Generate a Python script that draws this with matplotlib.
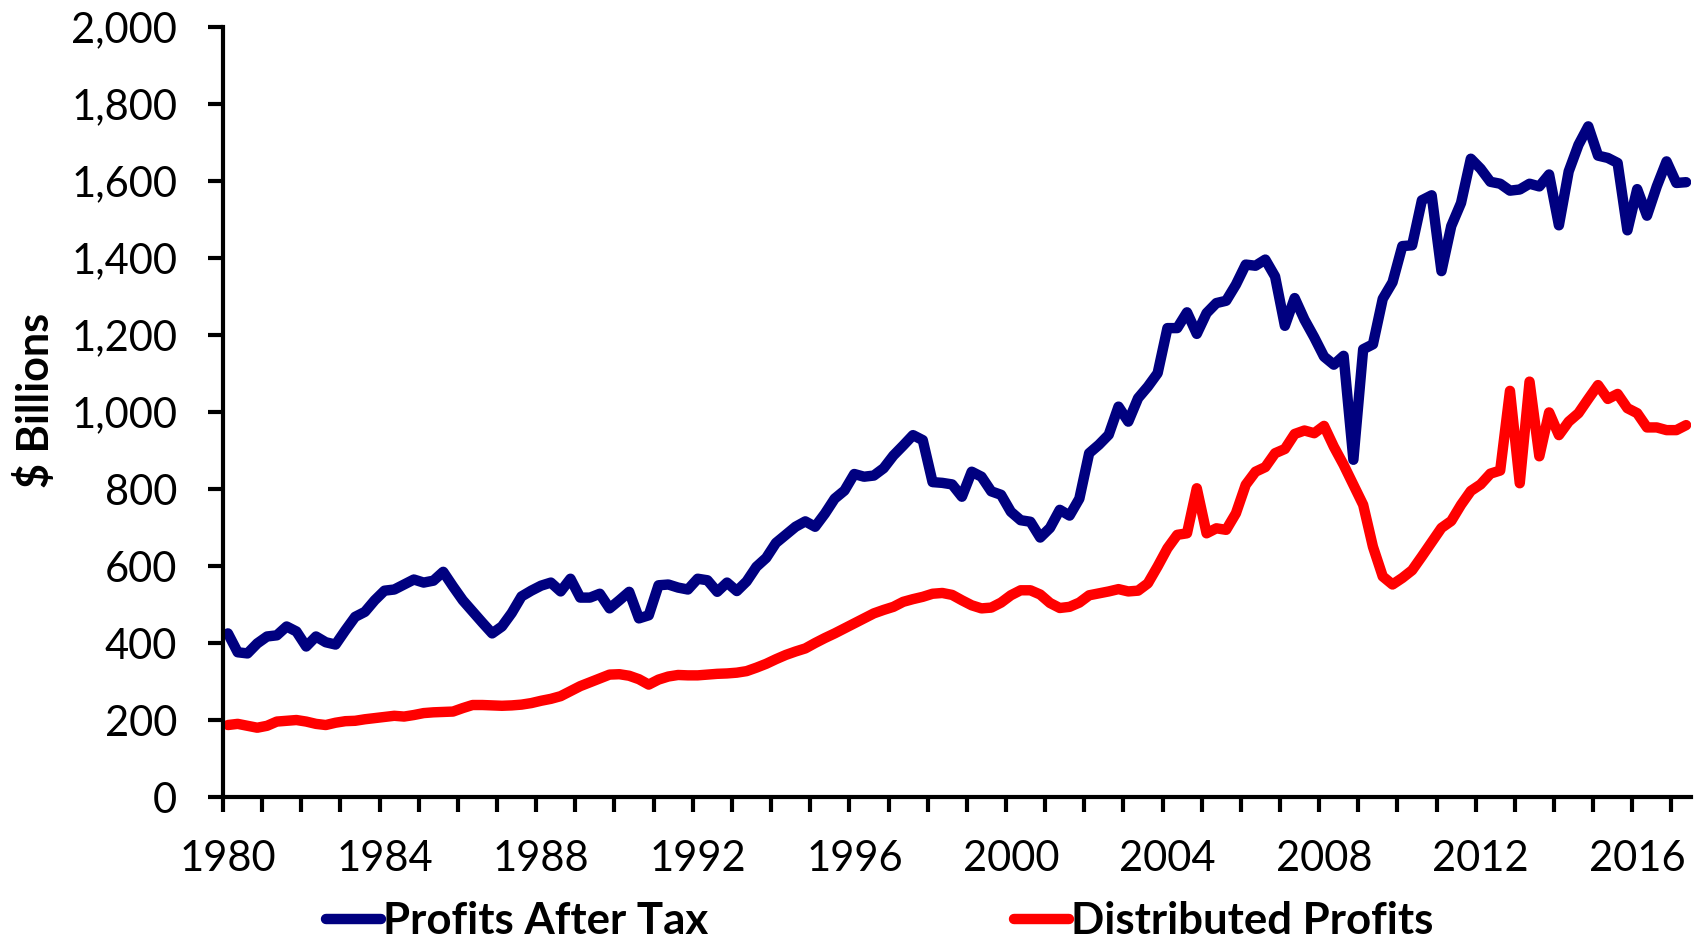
import numpy as np
import pandas as pd
import matplotlib
matplotlib.use('Agg')
import matplotlib.pyplot as plt
import matplotlib.transforms as mtransforms
from matplotlib.ticker import FuncFormatter, MultipleLocator

# quarterly data, 1980Q1 - 2017Q2, $ billions
profits_after_tax = [
    425, 376, 373, 399, 417, 420, 443, 430, 391, 417, 402, 396,
    433, 468, 481, 511, 536, 539, 552, 565, 557, 562, 585, 547,
    511, 482, 453, 425, 443, 478, 521, 536, 549, 557, 534, 567,
    518, 518, 528, 490, 511, 533, 464, 472, 550, 552, 544, 539,
    567, 563, 533, 557, 535, 560, 598, 621, 660, 681, 702, 716,
    702, 736, 775, 796, 839, 832, 835, 854, 887, 913, 940, 927,
    818, 816, 812, 780, 845, 832, 794, 785, 741, 719, 715, 674,
    699, 746, 731, 775, 893, 915, 941, 1014, 975, 1036, 1066, 1101,
    1218, 1218, 1259, 1203, 1257, 1283, 1289, 1331, 1383, 1380, 1396, 1352,
    1224, 1296, 1240, 1194, 1144, 1123, 1146, 876, 1163, 1176, 1294, 1337,
    1431, 1433, 1550, 1563, 1366, 1483, 1543, 1658, 1632, 1598, 1593, 1575,
    1578, 1593, 1586, 1617, 1485, 1625, 1694, 1742, 1666, 1660, 1647, 1472,
    1579, 1510, 1586, 1651, 1595, 1597,
]
distributed_profits = [
    187, 190, 185, 180, 185, 196, 198, 200, 196, 190, 187, 193,
    197, 198, 202, 205, 208, 211, 209, 213, 218, 220, 221, 222,
    231, 239, 239, 238, 237, 238, 240, 244, 250, 255, 262, 275,
    288, 298, 308, 318, 319, 315, 306, 292, 305, 313, 317, 316,
    316, 318, 320, 321, 323, 327, 336, 346, 358, 369, 378, 386,
    400, 413, 425, 438, 451, 464, 477, 486, 494, 507, 514, 520,
    528, 530, 525, 511, 498, 490, 492, 505, 524, 537, 537, 526,
    504, 491, 494, 505, 524, 529, 534, 540, 534, 536, 555, 599,
    646, 681, 685, 802, 685, 698, 694, 737, 811, 845, 857, 893,
    904, 943, 952, 945, 964, 910, 863, 811, 759, 650, 573, 552,
    569, 589, 625, 662, 699, 717, 759, 795, 812, 840, 848, 1055,
    815, 1079, 885, 999, 940, 975, 997, 1034, 1070, 1034, 1047, 1010,
    997, 960, 960, 953, 953, 966,
]

quarters = pd.period_range('1980Q1', periods=len(profits_after_tax), freq='Q')
x = quarters.year + (quarters.quarter - 1) / 4 + 0.125  # mid-quarter

fig = plt.figure(figsize=(17.05, 9.42), dpi=100)
ax = fig.add_axes([0.1308, 0.1539, 0.861, 0.8174])

l1, = ax.plot(x, profits_after_tax, color='#000080', lw=7.5,
              solid_joinstyle='round', solid_capstyle='round',
              label='Profits After Tax')
l2, = ax.plot(x, distributed_profits, color='#FF0000', lw=7.5,
              solid_joinstyle='round', solid_capstyle='round',
              label='Distributed Profits')

ax.set_xlim(1980, 2017.5)
ax.set_ylim(0, 2000)
ax.xaxis.set_major_locator(MultipleLocator(4))
ax.xaxis.set_minor_locator(MultipleLocator(1))
ax.yaxis.set_major_locator(MultipleLocator(200))
ax.yaxis.set_major_formatter(FuncFormatter(lambda v, p: f'{int(v):,}'))
ax.xaxis.set_major_formatter(FuncFormatter(lambda v, p: f'{int(v)}'))

for s in ['top', 'right']:
    ax.spines[s].set_visible(False)
for s in ['left', 'bottom']:
    ax.spines[s].set_linewidth(3)

font = 'Lato'
ax.tick_params(axis='both', which='both', direction='out', length=11, width=3)
ax.tick_params(axis='x', which='major', pad=20)
ax.tick_params(axis='y', which='major', pad=22)
shift = mtransforms.ScaledTranslation(5 / 100, 0, fig.dpi_scale_trans)
for lab in ax.get_xticklabels():
    lab.set_transform(lab.get_transform() + shift)
for lab in ax.get_xticklabels() + ax.get_yticklabels():
    lab.set_fontfamily(font)
    lab.set_fontsize(30)

ax.set_ylabel('$ Billions', fontfamily=font, fontsize=31, fontweight='bold')
ax.yaxis.set_label_coords(-0.114, 0.515)

fig.legend(handles=[l1, l2], loc='center', bbox_to_anchor=(0.516, 0.022),
           ncol=2, frameon=False, handlelength=1.25, handletextpad=0.05,
           columnspacing=7.0,
           prop={'family': font, 'size': 31.5, 'weight': 'bold'})

fig.savefig('out.png', dpi=100)
